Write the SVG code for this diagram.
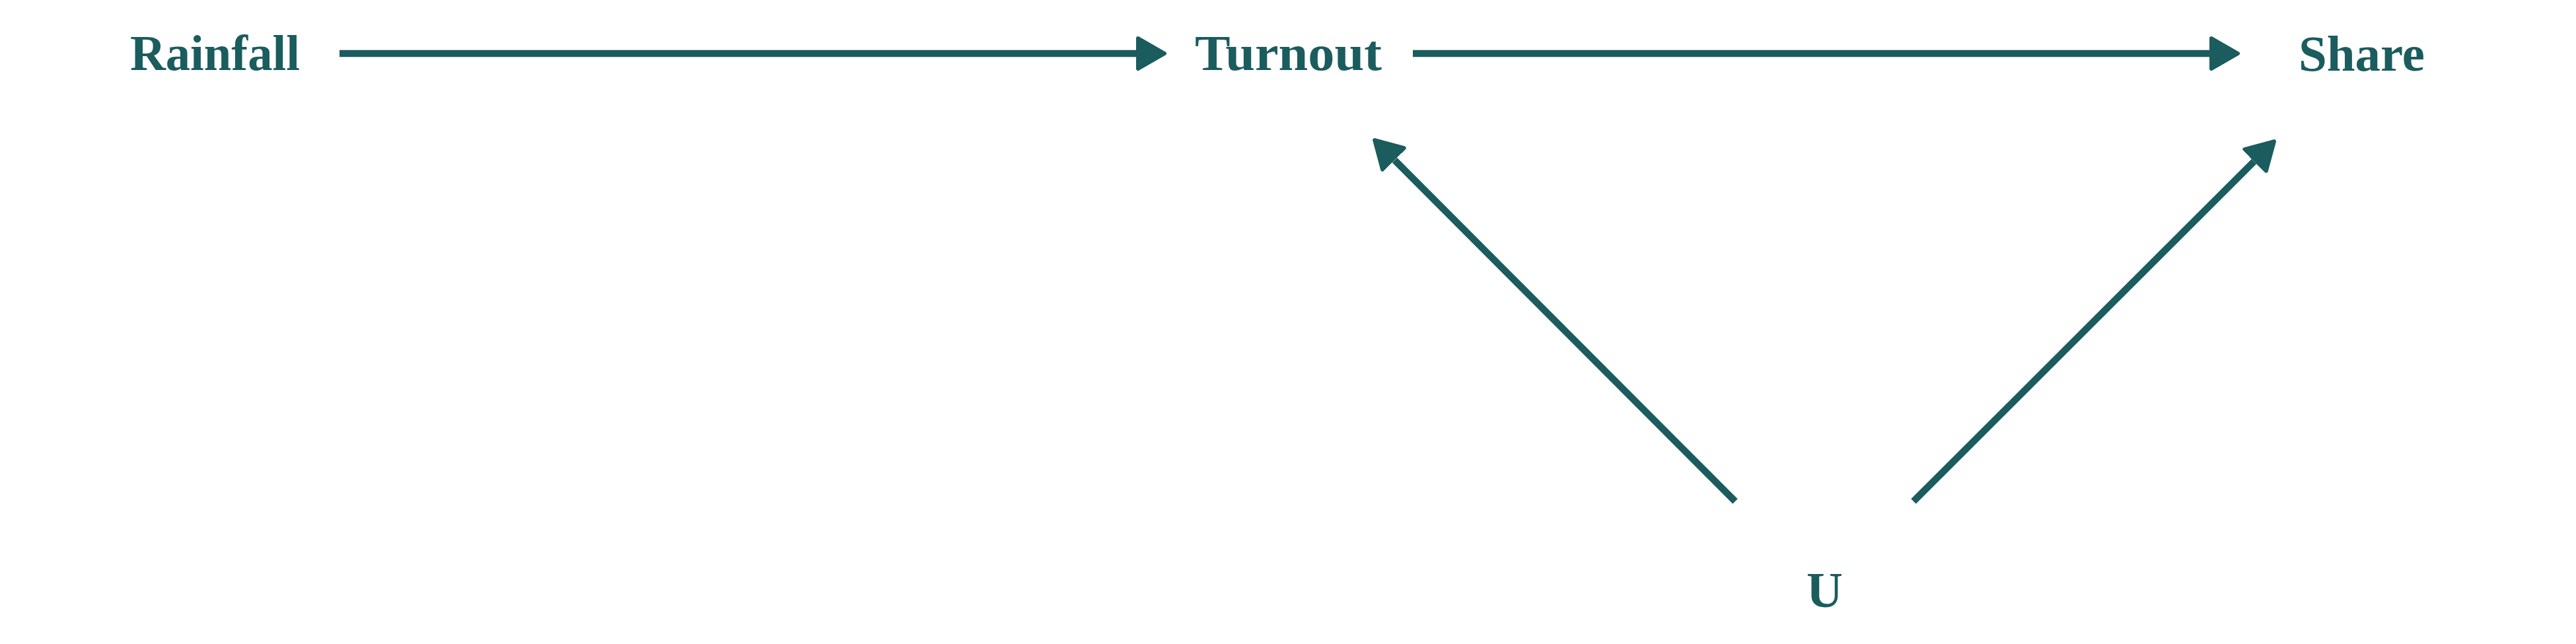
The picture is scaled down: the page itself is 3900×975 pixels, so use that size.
<svg xmlns="http://www.w3.org/2000/svg" width="3900" height="975" viewBox="0 0 3900 975">
  <style>
    .lbl { font-family: "Liberation Serif", "DejaVu Serif", serif; font-weight: bold; font-size: 76px; fill: #1b5c5e; text-anchor: middle; }
    .edge { stroke: #1b5c5e; stroke-width: 10.5; fill: none; marker-end: url(#arrow); }
  </style>
  <defs>
    <marker id="arrow" markerUnits="userSpaceOnUse" viewBox="0 -28 48 56" markerWidth="48" markerHeight="56" refX="0" refY="0" orient="auto">
      <path d="M3,-23 L43,0 L3,23 Z" fill="#1b5c5e" stroke="#1b5c5e" stroke-width="6" stroke-linejoin="round"/>
    </marker>
  </defs>
  <rect width="3900" height="975" fill="#ffffff"/>
  <g id="connectors">
    <line class="edge" x1="514" y1="81" x2="1720" y2="81"/>
    <line class="edge" x1="2139" y1="81" x2="3345" y2="81"/>
    <line class="edge" x1="2627" y1="759" x2="2111.5" y2="242.5"/>
    <line class="edge" x1="2897" y1="759" x2="3412.5" y2="244.5"/>
  </g>
  <g id="node-rainfall"><text class="lbl" x="325.4" y="106" textLength="257" lengthAdjust="spacingAndGlyphs">Rainfall</text></g>
  <g id="node-turnout"><text class="lbl" x="1950.5" y="106" textLength="283" lengthAdjust="spacingAndGlyphs">Turnout</text></g>
  <g id="node-share"><text class="lbl" x="3575.5" y="107" textLength="191" lengthAdjust="spacingAndGlyphs">Share</text></g>
  <g id="node-u"><text class="lbl" x="2762.5" y="919">U</text></g>
</svg>
